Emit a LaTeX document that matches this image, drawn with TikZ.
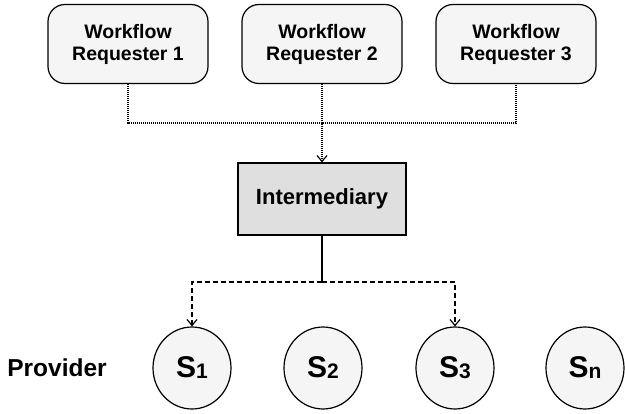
\documentclass[tikz,border=0pt]{standalone}
\usepackage{fontspec}
\setmainfont{Liberation Sans}
\usepackage{tikz}
\usetikzlibrary{arrows.meta,positioning,shapes.geometric}

\newcommand{\svc}[1]{S\raisebox{-1pt}{\fontsize{21}{21}\selectfont #1}}

\begin{document}
\begin{tikzpicture}[
  x=1pt, y=-1pt,
  req/.style={draw, rounded corners=17pt, fill=gray!8, line width=1.2pt, minimum width=160pt, minimum height=79pt, align=center, font=\fontsize{19.5}{22}\selectfont\bfseries},
  mid/.style={draw, fill=gray!25, line width=1.2pt, minimum width=168pt, minimum height=72pt, font=\fontsize{22}{24}\selectfont\bfseries},
  prov/.style={ellipse, draw, fill=gray!8, line width=1.2pt, minimum width=78pt, minimum height=82pt, inner sep=0pt, font=\fontsize{30}{30}\selectfont\bfseries},
  tip/.style={-{Straight Barb[length=6pt,width=10pt]}},
  dots/.style={line width=1.2pt, dash pattern=on 1pt off 1pt},
  dashes/.style={line width=1.2pt, dash pattern=on 5pt off 3pt}
]
  \useasboundingbox (0,0) rectangle (625,414);
  % requesters
  \node[req] (r1) at (128,44) {Workflow\\Requester 1};
  \node[req] (r2) at (322,44) {Workflow\\Requester 2};
  \node[req] (r3) at (516,44) {Workflow\\Requester 3};
  \node[mid] (im) at (322,199) {Intermediary};
  % providers
  \node[font=\fontsize{24.5}{26}\selectfont\bfseries] (pv) at (57,368) {Provider};
  \node[prov] (s1) at (192,368) {\svc{1}};
  \node[prov] (s2) at (323,368) {\svc{2}};
  \node[prov] (s3) at (455,368) {\svc{3}};
  \node[prov] (sn) at (585,368) {\svc{n}};
  \coordinate (jt) at (322,123);
  \coordinate (jb) at (322,282);
  \draw[dots] (r1.south) |- (jt) -| (r3.south);
  \draw[dots, tip] (r2.south) -- (im.north);
  \draw[line width=1.2pt] (im.south) -- (jb);
  \draw[dashes, tip] (jb) -| (s1.north);
  \draw[dashes, tip] (jb) -| (s3.north);
\end{tikzpicture}
\end{document}
